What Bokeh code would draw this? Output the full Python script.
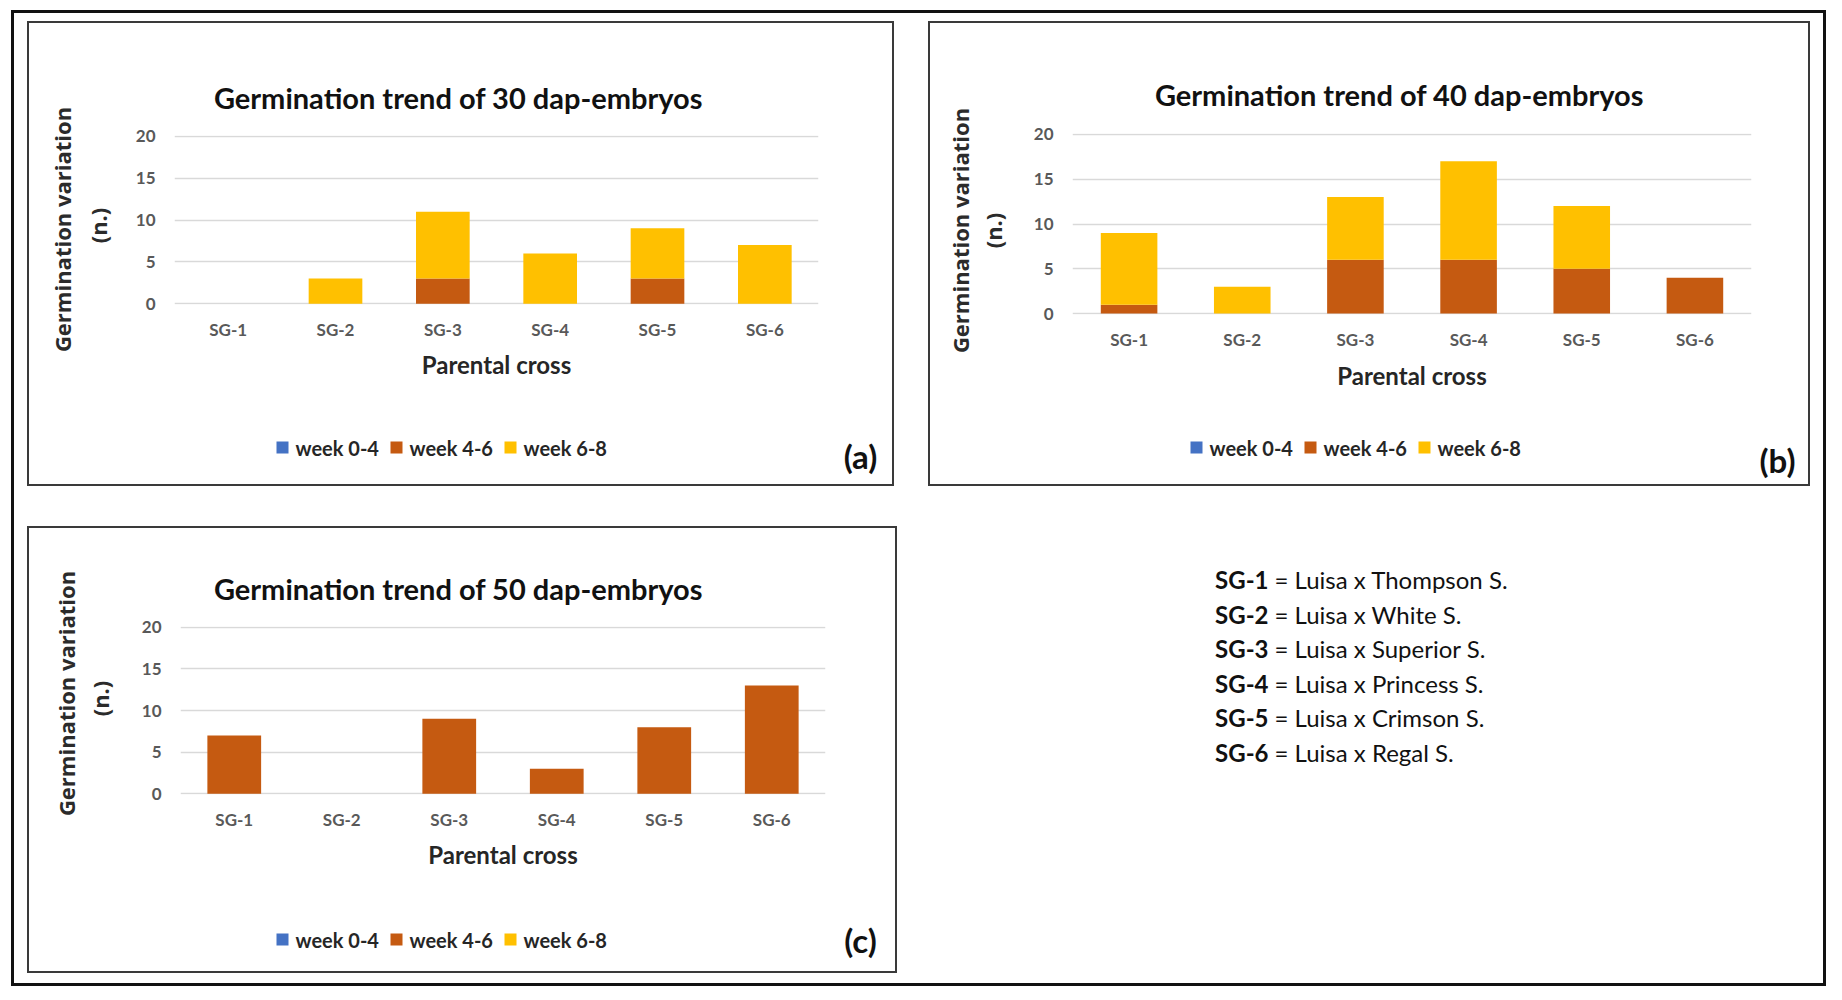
import math
from bokeh.plotting import figure
from bokeh.models import Range1d, Spacer, FixedTicker, ColumnDataSource
from bokeh.layouts import row, column
from bokeh.embed import file_html
from bokeh.resources import INLINE
from bokeh.core.properties import value

# ---------------- data ----------------
crosses = ["SG-1", "SG-2", "SG-3", "SG-4", "SG-5", "SG-6"]
weeks = ["week 0-4", "week 4-6", "week 6-8"]
y_ticks = [0, 5, 10, 15, 20]

a_week_0_4 = [0, 0, 0, 0, 0, 0]
a_week_4_6 = [0, 0, 3, 0, 3, 0]
a_week_6_8 = [0, 3, 8, 6, 6, 7]

b_week_0_4 = [0, 0, 0, 0, 0, 0]
b_week_4_6 = [1, 0, 6, 6, 5, 4]
b_week_6_8 = [8, 3, 7, 11, 7, 0]

c_week_0_4 = [0, 0, 0, 0, 0, 0]
c_week_4_6 = [7, 0, 9, 3, 8, 13]
c_week_6_8 = [0, 0, 0, 0, 0, 0]

titles = ["Germination trend of 30 dap-embryos",
          "Germination trend of 40 dap-embryos",
          "Germination trend of 50 dap-embryos"]
panel_tags = ["(a)", "(b)", "(c)"]
y_title = ["Germination variation", "(n.)"]
x_title = "Parental cross"
cross_names = ["Luisa x Thompson S.", "Luisa x White S.", "Luisa x Superior S.",
               "Luisa x Princess S.", "Luisa x Crimson S.", "Luisa x Regal S."]

# ---------------- styles ----------------
colors = ["#4472C4", "#C55A11", "#FFC000"]
FONT = "Lato"
GRAY = "#595959"
BOX = {"outline": "2px solid #3a3a3a"}


def deco(w, h):
    f = figure(x_range=Range1d(0, w), y_range=Range1d(0, h), width=w, height=h,
               min_border=0, x_axis_location=None, y_axis_location=None,
               output_backend="svg", toolbar_location=None, tools="")
    f.outline_line_color = None
    f.xgrid.visible = False
    f.ygrid.visible = False
    f.background_fill_color = "white"
    f.border_fill_color = "white"
    return f


def txt(f, x, y, text, size, color, bold=True, align="center", angle=0.0, font=FONT):
    f.text(x=[x], y=[y], text=[text], text_font=value(font), text_font_size=f"{size}px",
           text_font_style="bold" if bold else "normal", text_color=color,
           text_align=align, text_baseline="middle", angle=angle)


def make_panel(title, tag, w04, w46, w68, c):
    W, H, Lw, T, TM = c["W"], c["H"], c["Lw"], c["T"], c["TM"]
    fl, fr, ft, fb = c["frame"]
    cw, M, B = W - Lw, TM - T, H - TM

    # title strip
    tf = deco(cw, T)
    txt(tf, c["title"][0] - Lw, T - c["title"][1], title, 29, "#111111")

    # y-axis title strip
    yf = deco(Lw, TM)
    txt(yf, c["yt1"][0], TM - c["yt1"][1], y_title[0], 22, "#2b2b2b", angle=math.pi / 2, font="Open Sans")
    txt(yf, c["yt2"][0], TM - c["yt2"][1], y_title[1], 22, "#2b2b2b", angle=math.pi / 2, font="Open Sans")

    # chart
    p = figure(x_range=crosses, y_range=Range1d(-0.1, 20.1), width=cw, height=M,
               min_border_left=fl - Lw, min_border_right=W - fr,
               min_border_top=ft - T, min_border_bottom=TM - fb,
               output_backend="svg", toolbar_location=None, tools="")
    p.outline_line_color = None
    p.background_fill_color = "white"
    p.border_fill_color = "white"
    src = ColumnDataSource(data={"cross": crosses, weeks[0]: w04, weeks[1]: w46, weeks[2]: w68})
    p.vbar_stack(weeks, x="cross", width=0.5, source=src, fill_color=colors, line_color=None)
    p.xgrid.visible = False
    p.ygrid.grid_line_color = "#D9D9D9"
    p.ygrid.grid_line_width = 1.5
    for ax in (p.xaxis[0], p.yaxis[0]):
        ax.axis_line_color = None
        ax.major_tick_line_color = None
        ax.minor_tick_line_color = None
        ax.major_tick_out = 0
        ax.major_tick_in = 0
        ax.minor_tick_out = 0
        ax.minor_tick_in = 0
        ax.major_label_text_font = FONT
        ax.major_label_text_font_style = "bold"
        ax.major_label_text_color = GRAY
        ax.major_label_text_font_size = "17px"
    p.yaxis[0].ticker = FixedTicker(ticks=y_ticks)
    p.yaxis[0].major_label_standoff = 19
    xax = p.xaxis[0]
    xax.major_label_standoff = 14
    xax.axis_label = x_title
    xax.axis_label_text_font = FONT
    xax.axis_label_text_font_size = "24px"
    xax.axis_label_text_font_style = "bold"
    xax.axis_label_text_color = "#262626"
    xax.axis_label_standoff = c["xstand"]

    # bottom strip: legend keys + tag
    bf = deco(W, B)
    ly = B - (c["legend_y"] - TM)
    sq_x = [c["legend_x"] + 114 * i for i in range(len(weeks))]
    bf.rect(x=sq_x, y=[ly] * len(weeks), width=12, height=12, fill_color=colors, line_color=None)
    bf.text(x=[x + 13 for x in sq_x], y=[ly] * len(weeks), text=weeks, text_font=value(FONT),
            text_font_size="20px", text_font_style="bold", text_color="#262626",
            text_align="left", text_baseline="middle")
    txt(bf, c["tag"][0], B - (c["tag"][1] - TM), tag, 33, "#111111")

    inner = row(column(yf), column(column(tf), column(p)))
    return column(inner, column(bf), styles=dict(BOX))


cfg_a = {"W": 863, "H": 461, "Lw": 92, "T": 98, "TM": 395, "frame": (145, 789, 112, 281),
         "title": (429, 74), "yt1": (32, 206), "yt2": (68, 202), "xstand": 7,
         "legend_x": 253, "legend_y": 424, "tag": (831, 432)}
cfg_b = {"W": 878, "H": 461, "Lw": 88, "T": 96, "TM": 395, "frame": (142, 821, 110, 291),
         "title": (469, 71), "yt1": (29, 207), "yt2": (62, 207), "xstand": 8,
         "legend_x": 266, "legend_y": 424, "tag": (847, 436)}
cfg_c = {"W": 866, "H": 443, "Lw": 92, "T": 84, "TM": 380, "frame": (151, 796, 98, 266),
         "title": (429, 60), "yt1": (36, 165), "yt2": (70, 170), "xstand": 7,
         "legend_x": 253, "legend_y": 411, "tag": (831, 411)}

pa = make_panel(titles[0], panel_tags[0], a_week_0_4, a_week_4_6, a_week_6_8, cfg_a)
pb = make_panel(titles[1], panel_tags[1], b_week_0_4, b_week_4_6, b_week_6_8, cfg_b)
pc = make_panel(titles[2], panel_tags[2], c_week_0_4, c_week_4_6, c_week_6_8, cfg_c)

# ---------------- key panel ----------------
pd_w, pd_h = 878, 443
pdk = deco(pd_w, pd_h)
n = len(crosses)
line_y = [pd_h - (51 + 34.5 * i) for i in range(n)]
pdk.text(x=[338] * n, y=line_y, text=crosses, text_align="right", text_baseline="middle",
         text_font=value(FONT), text_font_style="bold", text_font_size="24px", text_color="#111111")
pdk.text(x=[344] * n, y=line_y, text=["= " + s for s in cross_names], text_align="left",
         text_baseline="middle", text_font=value(FONT), text_font_size="24px", text_color="#111111")

row1 = row(Spacer(width=18, height=10), pa, Spacer(width=38, height=10), pb,
           Spacer(width=18, height=10))
row2 = row(Spacer(width=18, height=10), pc, Spacer(width=35, height=10), column(pdk),
           Spacer(width=18, height=10))
outer = column(Spacer(width=10, height=13), row1, Spacer(width=10, height=44), row2,
               Spacer(width=10, height=15),
               styles={"outline": "3px solid #111111", "outline-offset": "-3px"})
layout = column(Spacer(width=10, height=10), row(Spacer(width=11, height=10), outer))

open("out.html", "w").write(file_html(layout, INLINE))
